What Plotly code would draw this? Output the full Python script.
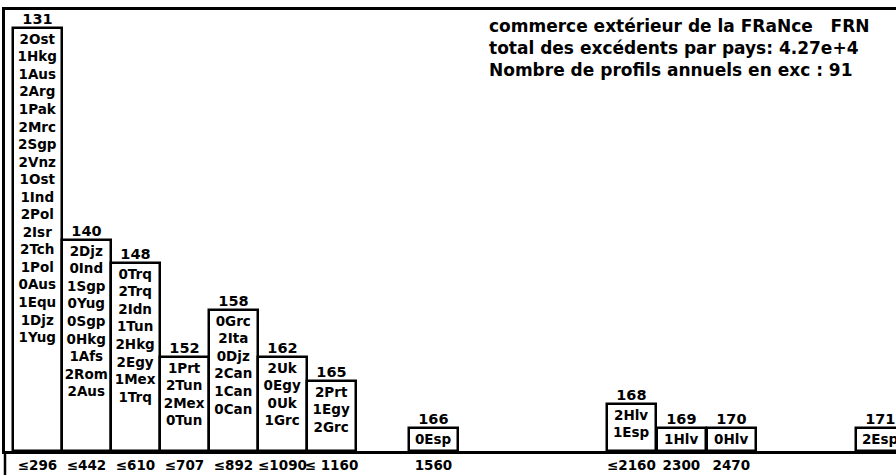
import plotly.graph_objects as go

# ---- data ----
class_ids = ["131", "140", "148", "152", "158", "162", "165", "166", "168", "169", "170", "171"]
x_pos = [0, 1, 2, 3, 4, 5, 6, 8.08, 12.12, 13.14, 14.16, 17.2]
x_labels = ["≤296", "≤442", "≤610", "≤707", "≤892", "≤1090", "≤ 1160",
            "1560", "≤2160", "2300", "2470", "2990"]
members_131 = ["2Ost", "1Hkg", "1Aus", "2Arg", "1Pak", "2Mrc", "2Sgp", "2Vnz", "1Ost",
               "1Ind", "2Pol", "2Isr", "2Tch", "1Pol", "0Aus", "1Equ", "1Djz", "1Yug"]
members_140 = ["2Djz", "0Ind", "1Sgp", "0Yug", "0Sgp", "0Hkg", "1Afs", "2Rom", "2Aus"]
members_148 = ["0Trq", "2Trq", "2Idn", "1Tun", "2Hkg", "2Egy", "1Mex", "1Trq"]
members_152 = ["1Prt", "2Tun", "2Mex", "0Tun"]
members_158 = ["0Grc", "2Ita", "0Djz", "2Can", "1Can", "0Can"]
members_162 = ["2Uk", "0Egy", "0Uk", "1Grc"]
members_165 = ["2Prt", "1Egy", "2Grc"]
members_166 = ["0Esp"]
members_168 = ["2Hlv", "1Esp"]
members_169 = ["1Hlv"]
members_170 = ["0Hlv"]
members_171 = ["2Esp"]
members = [members_131, members_140, members_148, members_152, members_158, members_162,
           members_165, members_166, members_168, members_169, members_170, members_171]
counts = [18, 9, 8, 4, 6, 4, 3, 1, 2, 1, 1, 1]

title_lines = ["commerce extérieur de la FRaNce   FRN",
               "total des excédents par pays: 4.27e+4",
               "Nombre de profils annuels en exc : 91"]

FONT = "DejaVu Sans"

fig = go.Figure()
fig.add_bar(
    x=x_pos, y=counts, width=1.0,
    text=["<br>".join(m) for m in members],
    textposition="inside", insidetextanchor="end", textangle=0,
    constraintext="none",
    insidetextfont=dict(family=FONT, size=13.5, color="black", weight="bold"),
    marker=dict(color="white", line=dict(color="black", width=2.5)),
    hoverinfo="skip", showlegend=False,
)
fig.add_scatter(
    x=x_pos, y=counts, mode="text", text=class_ids, textposition="top center",
    textfont=dict(family=FONT, size=14.5, color="black", weight="bold"),
    cliponaxis=False, hoverinfo="skip", showlegend=False,
)

for i, line in enumerate(title_lines):
    fig.add_annotation(
        text=line, xref="paper", yref="paper", x=(487 - 5) / 891, y=(451 - 26 - 22 * i) / 441,
        xanchor="left", yanchor="middle", showarrow=False,
        font=dict(family=FONT, size=17, color="black", weight="bold"),
    )

fig.add_shape(type="line", xref="paper", yref="paper", x0=0, x1=0, y0=0, y1=-0.06,
              line=dict(color="black", width=2.5))

fig.update_layout(
    width=896, height=475,
    margin=dict(l=5, r=0, t=10, b=24),
    paper_bgcolor="white", plot_bgcolor="white",
    bargap=0,
    xaxis=dict(range=[-0.663, 17.52], tickvals=x_pos, ticktext=x_labels,
               tickangle=0, automargin=False,
               showgrid=False, zeroline=False, showline=True, mirror=True,
               linecolor="black", linewidth=3, ticks="",
               tickfont=dict(family=FONT, size=13.5, color="black", weight="bold")),
    yaxis=dict(range=[0, 18.77], showgrid=False, zeroline=False, showticklabels=False,
               automargin=False,
               showline=True, linecolor="black", linewidth=2.5, ticks=""),
)

fig.write_html("out.html", config={"displayModeBar": False},
               post_script="document.body.style.margin='0';document.body.style.overflow='hidden';")
